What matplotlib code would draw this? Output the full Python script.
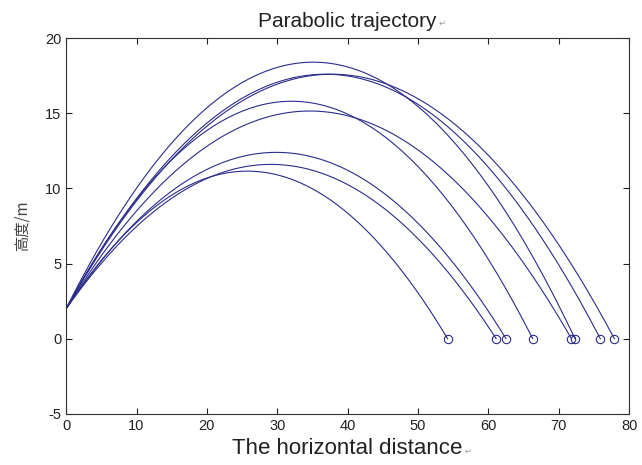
import numpy as np
import matplotlib.pyplot as plt

plt.rcParams['font.family'] = ['Liberation Sans', 'DejaVu Sans', 'Noto Sans CJK SC']
plt.rcParams['axes.unicode_minus'] = False

# launch height and, per throw, the landing distance and peak height
h0 = 2.0
ranges = [54.2, 61.1, 62.5, 66.3, 71.8, 72.3, 75.9, 77.9]
peaks = [11.15, 11.6, 12.4, 15.8, 15.15, 18.4, 17.6, 17.6]

xticks = [0, 10, 20, 30, 40, 50, 60, 70, 80]
yticks = [-5, 0, 5, 10, 15, 20]

line_color = '#2c2c8c'

fig = plt.figure(figsize=(6.42, 4.65), dpi=100)
ax = fig.add_axes([0.103, 0.11, 0.877, 0.808])

for R, H in zip(ranges, peaks):
    # parabola through (0, h0) with apex height H that lands at (R, 0)
    xp = R / (1 + np.sqrt(H / (H - h0)))
    b = (H - h0) / xp**2
    x = np.linspace(0, R, 300)
    y = H - b * (x - xp)**2
    ax.plot(x, y, color=line_color, lw=0.8)
    ax.plot(R, 0, 'o', mfc='none', mec=line_color, ms=6, mew=0.8)

ax.set_xlim(0, 80)
ax.set_ylim(-5, 20)
ax.set_xticks(xticks)
ax.set_yticks(yticks)
ax.tick_params(direction='in', top=True, right=True, labelsize=10.5, length=4, width=0.8, colors='#222222')
for s in ax.spines.values():
    s.set_color('#333333')
    s.set_linewidth(0.8)

# word-processor return marks that trail the title and x label
t = ax.set_title('Parabolic trajectory', fontsize=15, pad=8, color='#222222')
ax.annotate('\u21b5', xy=(1, 0.15), xycoords=t, xytext=(1, 0), textcoords='offset points',
            fontsize=6, color='#999999', family=['DejaVu Sans'], va='bottom')
xl = ax.set_xlabel('The horizontal distance', fontsize=16, labelpad=4, color='#222222')
ax.annotate('\u21b5', xy=(1, 0.15), xycoords=xl, xytext=(1, 0), textcoords='offset points',
            fontsize=6, color='#999999', family=['DejaVu Sans'], va='bottom')
ax.set_ylabel('高度/m', fontsize=11, labelpad=10, color='#444444',
              family=['Noto Sans CJK SC', 'DejaVu Sans'])

fig.savefig('out.png', dpi=100)
